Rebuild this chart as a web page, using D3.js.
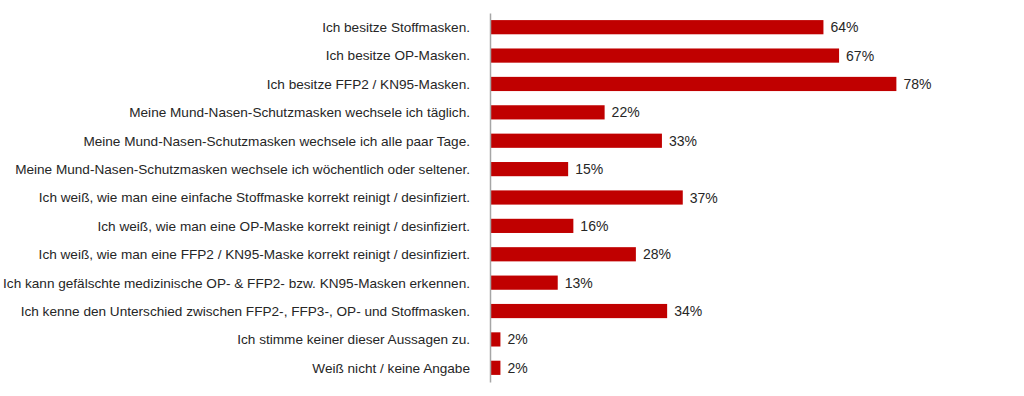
<!DOCTYPE html>
<html><head><meta charset="utf-8">
<script src="https://cdn.jsdelivr.net/npm/d3@7/dist/d3.min.js"></script>
<style>body{margin:0;background:#fff}svg{display:block}</style>
</head><body>
<svg id="c" width="1024" height="396"></svg>
<script>
const categories = [
  "Ich besitze Stoffmasken.",
  "Ich besitze OP-Masken.",
  "Ich besitze FFP2 / KN95-Masken.",
  "Meine Mund-Nasen-Schutzmasken wechsele ich täglich.",
  "Meine Mund-Nasen-Schutzmasken wechsele ich alle paar Tage.",
  "Meine Mund-Nasen-Schutzmasken wechsele ich wöchentlich oder seltener.",
  "Ich weiß, wie man eine einfache Stoffmaske korrekt reinigt / desinfiziert.",
  "Ich weiß, wie man eine OP-Maske korrekt reinigt / desinfiziert.",
  "Ich weiß, wie man eine FFP2 / KN95-Maske korrekt reinigt / desinfiziert.",
  "Ich kann gefälschte medizinische OP- & FFP2- bzw. KN95-Masken erkennen.",
  "Ich kenne den Unterschied zwischen FFP2-, FFP3-, OP- und Stoffmasken.",
  "Ich stimme keiner dieser Aussagen zu.",
  "Weiß nicht / keine Angabe"
];
const values = [64, 67, 78, 22, 33, 15, 37, 16, 28, 13, 34, 2, 2];

const svg = d3.select("#c");
const x = d3.scaleLinear().domain([0, 100]).range([490, 1011]);
const y = d3.scaleBand().domain(categories).range([13, 382]).paddingInner(0.5).paddingOuter(0.25);
const font = "Liberation Sans, Arial, sans-serif";

svg.selectAll("rect.bar").data(values).join("rect")
  .attr("class", "bar")
  .attr("x", x(0))
  .attr("y", (d, i) => y(categories[i]))
  .attr("width", d => x(d) - x(0))
  .attr("height", y.bandwidth())
  .attr("fill", "#C00000");

svg.selectAll("text.val").data(values).join("text")
  .attr("class", "val")
  .attr("x", d => x(d) + 7)
  .attr("y", (d, i) => y(categories[i]) + y.bandwidth() / 2)
  .attr("dy", "0.36em")
  .attr("font-family", font)
  .attr("font-size", 14)
  .attr("fill", "#262626")
  .text(d => d + "%");

const axis = svg.append("g").attr("transform", `translate(${x(0)},0)`)
  .call(d3.axisLeft(y).tickSize(0).tickPadding(20));
axis.select(".domain").attr("stroke", "#a6a6a6").attr("stroke-width", 1.5);
axis.selectAll("text").attr("font-family", font).attr("font-size", 13.6).attr("fill", "#262626").attr("dy", "0.36em");
</script>
</body></html>
